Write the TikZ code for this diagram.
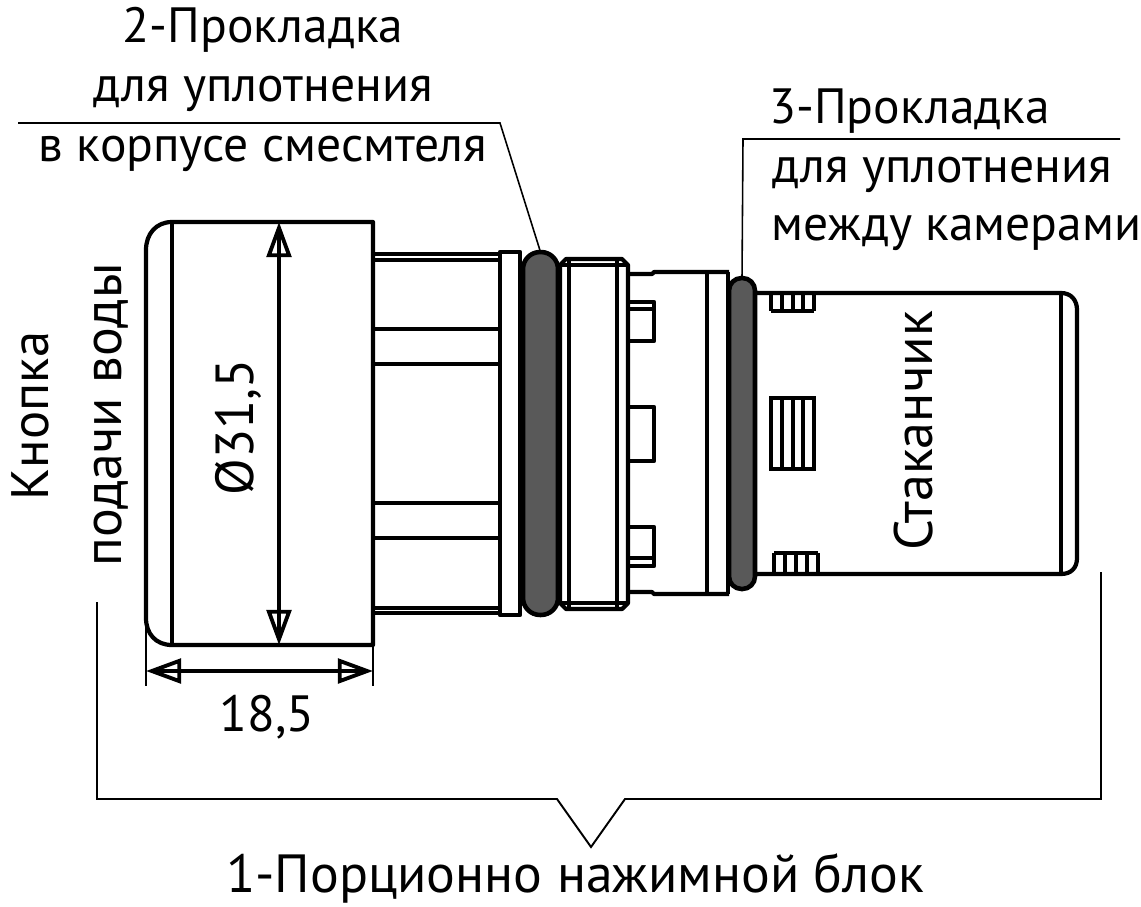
\documentclass[tikz,border=0pt]{standalone}
\usepackage{fontspec}
\setmainfont{PT Sans}
\usetikzlibrary{arrows.meta}

\begin{document}
\begin{tikzpicture}[x=0.02cm,y=-0.02cm,
    part/.style={line width=2.4pt,line join=round},
    fine/.style={line width=1.9pt},
    leader/.style={line width=0.9pt},
    seal/.style={draw,line width=2.6pt,fill=black!65!white,rectangle,inner sep=0pt,outer sep=0pt},
    dim/.style={line width=2pt,{Triangle[open,length=20pt,width=14pt,line width=2.2pt]}-{Triangle[open,length=20pt,width=14pt,line width=2.2pt]}},
    caption/.style={font=\fontsize{#1}{32}\selectfont,inner sep=0pt},
    caption/.default=28.2]
     \useasboundingbox (0,0) rectangle (1141,906);
     % button
     \draw[part] (172,222) -- (373,222) -- (373,645) -- (172,645)
        .. controls (156,645) and (146,634) .. (146,618) -- (146,250)
        .. controls (146,234) and (156,222) .. (172,222);
     \draw[fine] (172,222) -- (172,645);
     % stem
     \draw[part] (373,254) -- (500,254) (373,608) -- (500,608);
     \draw[fine] (373,260) -- (500,260) (373,613) -- (500,613);
     \foreach \y in {329,364,503,538}
        \draw[fine] (373,\y) -- (500,\y);
     \draw[part] (500,252) rectangle (520,615);
     % nut
     \draw[part] (560,265) -- (566,259) -- (622,259) -- (628,265) -- (628,603) -- (622,609) -- (566,609) -- (560,603) -- cycle;
     \draw[fine] (562,265) -- (628,265) (562,603) -- (628,603);
     \draw[fine] (569,259) -- (569,609) (617,259) -- (617,609);
     % body behind the nut
     \draw[part] (628,274) -- (652,274) -- (654,272) -- (729,272) (628,592) -- (652,592) -- (654,594) -- (729,594);
     \draw[part] (707,272) -- (707,594) (728,272) -- (728,594);
     \draw[part] (628,302) -- (654,302) -- (654,341) -- (628,341);
     \draw[fine] (628,309) -- (654,309);
     \draw[part] (628,407) -- (654,407) -- (654,461) -- (628,461);
     \draw[part] (628,527) -- (654,527) -- (654,566) -- (628,566);
     \draw[fine] (628,558) -- (654,558);
     % cup
     \draw[part] (755,293) -- (1061,293) .. controls (1071,293) and (1077,300) .. (1077,310) -- (1077,558)
        .. controls (1077,568) and (1071,574) .. (1061,574) -- (755,574);
     \draw[fine] (1061,293) -- (1061,574);
     % ribs
     \foreach \x in {771,782,793,803,814} {
        \draw[fine] (\x,293) -- (\x,311);
        \draw[fine] (\x,398) -- (\x,469);
     }
     \foreach \x in {774,785,796,807,818}
        \draw[fine] (\x,553) -- (\x,574);
     \draw[fine] (771,311) -- (814,311);
     \draw[fine] (771,398) rectangle (814,469);
     \draw[fine] (774,553) -- (818,553);
     % seals
     \node[seal,minimum width=0.7cm,minimum height=7.26cm,rounded corners=0.34cm] (seal_2) at (540.5,433.5) {};
     \node[seal,minimum width=0.52cm,minimum height=6.22cm,rounded corners=0.25cm] (seal_3) at (742,433.5) {};
     % leaders
     \coordinate (lead_2a) at (18,123);
     \coordinate (lead_2b) at (500,123);
     \coordinate (lead_3a) at (1120,139);
     \coordinate (lead_3b) at (743,139);
     \draw[leader] (lead_2a) -- (lead_2b) -- (seal_2.north);
     \draw[leader] (lead_3a) -- (lead_3b) -- (seal_3.north);
     % dimensions
     \coordinate (top_d) at (279,222);
     \coordinate (bot_d) at (279,645);
     \coordinate (lft_d) at (146,671);
     \coordinate (rgt_d) at (373,671);
     \draw[dim] (top_d) -- (bot_d);
     \draw[dim] (lft_d) -- (rgt_d);
     \draw[fine] (279,232) -- (279,635) (156,671) -- (363,671);
     \draw[leader] (146,618) -- (146,686) (373,645) -- (373,686);
     % bracket
     \coordinate (br_a) at (97,602);
     \coordinate (br_b) at (97,799);
     \coordinate (br_c) at (557,799);
     \coordinate (br_d) at (591,847);
     \coordinate (br_e) at (625,799);
     \coordinate (br_f) at (1101,799);
     \coordinate (br_g) at (1101,572);
     \draw[leader,line width=1.1pt] (br_a) -- (br_b) -- (br_c) -- (br_d) -- (br_e) -- (br_f) -- (br_g);
     % labels
     \node[caption] (t_2a) at (263,30) {2-Прокладка};
     \node[caption] (t_2b) at (263,94) {для уплотнения};
     \node[caption] (t_2c) at (263,154) {в корпусе смесмтеля};
     \node[caption,anchor=west] (t_3a) at (769,111) {3-Прокладка};
     \node[caption,anchor=west] (t_3b) at (772,175) {для уплотнения};
     \node[caption,anchor=west] (t_3c) at (771,233) {между камерами};
     \node[caption=30,rotate=90] (t_knob) at (30,416) {Кнопка};
     \node[caption=30.6,rotate=90] (t_feed) at (111,415) {подачи воды};
     \node[caption=30.5,rotate=90] (t_dia) at (238,427) {Ø31,5};
     \node[caption=30.8,rotate=90] (t_cup) at (914,431) {Стаканчик};
     \node[caption=29] (t_len) at (267,717) {18,5};
     \node[caption=30.6] (t_unit) at (575,878) {1-Порционно нажимной блок};
\end{tikzpicture}
\end{document}
